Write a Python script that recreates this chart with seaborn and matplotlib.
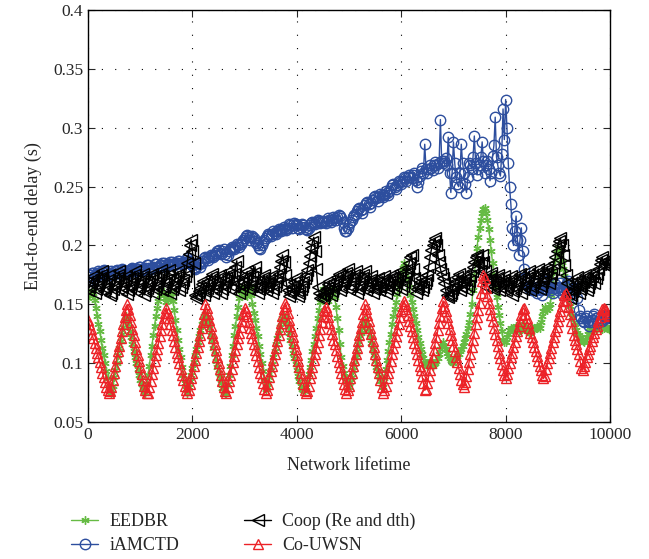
import numpy as np
import pandas as pd
import seaborn as sns
import matplotlib
matplotlib.use("Agg")
import matplotlib.pyplot as plt

# sample grid of the network lifetime axis (every 25 units)
lifetime = np.arange(0, 10001, 25)

eedbr = [
    0.155, 0.158, 0.160, 0.161, 0.160, 0.154, 0.147, 0.140, 0.133, 0.127, 0.120, 0.113, 0.107, 0.100, 0.093, 0.087, 0.080, 0.076, 0.075, 0.081,
    0.088, 0.094, 0.100, 0.107, 0.113, 0.119, 0.125, 0.131, 0.137, 0.140, 0.138, 0.133, 0.127, 0.122, 0.116, 0.110, 0.105, 0.100, 0.095, 0.090,
    0.086, 0.082, 0.078, 0.076, 0.075, 0.082, 0.090, 0.098, 0.107, 0.115, 0.124, 0.132, 0.140, 0.147, 0.153, 0.158, 0.162, 0.160, 0.158, 0.155,
    0.152, 0.154, 0.157, 0.159, 0.160, 0.153, 0.145, 0.137, 0.128, 0.120, 0.112, 0.105, 0.097, 0.090, 0.083, 0.078, 0.075, 0.080, 0.085, 0.090,
    0.096, 0.101, 0.107, 0.112, 0.118, 0.123, 0.128, 0.133, 0.137, 0.140, 0.142, 0.139, 0.135, 0.130, 0.124, 0.119, 0.113, 0.108, 0.102, 0.097,
    0.092, 0.087, 0.083, 0.079, 0.076, 0.075, 0.075, 0.082, 0.090, 0.098, 0.107, 0.115, 0.124, 0.132, 0.140, 0.148, 0.155, 0.161, 0.165, 0.163,
    0.160, 0.158, 0.157, 0.162, 0.166, 0.158, 0.150, 0.143, 0.137, 0.130, 0.123, 0.115, 0.108, 0.100, 0.093, 0.085, 0.078, 0.080, 0.083, 0.088,
    0.094, 0.099, 0.105, 0.110, 0.116, 0.121, 0.126, 0.131, 0.135, 0.138, 0.140, 0.138, 0.136, 0.131, 0.126, 0.120, 0.115, 0.109, 0.104, 0.099,
    0.094, 0.089, 0.085, 0.081, 0.078, 0.077, 0.076, 0.080, 0.085, 0.091, 0.097, 0.103, 0.110, 0.116, 0.123, 0.130, 0.138, 0.145, 0.152, 0.158,
    0.163, 0.161, 0.158, 0.155, 0.153, 0.157, 0.160, 0.162, 0.163, 0.156, 0.148, 0.138, 0.128, 0.116, 0.105, 0.098, 0.092, 0.088, 0.085, 0.082,
    0.080, 0.084, 0.088, 0.094, 0.099, 0.105, 0.110, 0.116, 0.121, 0.126, 0.130, 0.134, 0.137, 0.135, 0.132, 0.127, 0.122, 0.117, 0.112, 0.107,
    0.102, 0.097, 0.093, 0.089, 0.085, 0.082, 0.080, 0.087, 0.095, 0.103, 0.110, 0.118, 0.125, 0.133, 0.140, 0.146, 0.152, 0.159, 0.165, 0.171,
    0.176, 0.181, 0.185, 0.182, 0.178, 0.172, 0.165, 0.158, 0.152, 0.146, 0.140, 0.134, 0.128, 0.122, 0.117, 0.112, 0.108, 0.104, 0.100, 0.099,
    0.098, 0.100, 0.102, 0.100, 0.098, 0.099, 0.100, 0.102, 0.104, 0.108, 0.112, 0.115, 0.118, 0.115, 0.112, 0.109, 0.106, 0.104, 0.103, 0.101,
    0.100, 0.102, 0.104, 0.106, 0.108, 0.110, 0.112, 0.115, 0.118, 0.121, 0.125, 0.130, 0.135, 0.142, 0.150, 0.162, 0.175, 0.187, 0.198, 0.207,
    0.215, 0.222, 0.228, 0.231, 0.232, 0.228, 0.222, 0.214, 0.205, 0.195, 0.185, 0.175, 0.165, 0.156, 0.148, 0.141, 0.134, 0.127, 0.120, 0.118,
    0.118, 0.122, 0.125, 0.128, 0.130, 0.129, 0.128, 0.130, 0.132, 0.130, 0.127, 0.128, 0.130, 0.132, 0.133, 0.130, 0.128, 0.127, 0.126, 0.128,
    0.130, 0.129, 0.128, 0.130, 0.132, 0.131, 0.130, 0.135, 0.140, 0.144, 0.148, 0.146, 0.145, 0.147, 0.150, 0.158, 0.168, 0.178, 0.188, 0.194,
    0.198, 0.196, 0.192, 0.186, 0.180, 0.174, 0.168, 0.161, 0.155, 0.149, 0.143, 0.139, 0.135, 0.131, 0.128, 0.126, 0.124, 0.122, 0.120, 0.119,
    0.118, 0.120, 0.122, 0.125, 0.127, 0.129, 0.130, 0.129, 0.128, 0.129, 0.130, 0.131, 0.132, 0.130, 0.129, 0.130, 0.131, 0.131, 0.130, 0.129,
    0.128,
]

iamctd = [
    0.170, 0.173, 0.175, 0.177, 0.177, 0.175, 0.174, 0.177, 0.178, 0.176, 0.176, 0.178, 0.179, 0.177, 0.177, 0.175, 0.175, 0.177, 0.178, 0.176,
    0.176, 0.178, 0.179, 0.177, 0.177, 0.179, 0.180, 0.178, 0.178, 0.177, 0.176, 0.178, 0.179, 0.180, 0.181, 0.179, 0.178, 0.180, 0.180, 0.182,
    0.182, 0.180, 0.179, 0.180, 0.181, 0.183, 0.183, 0.181, 0.180, 0.181, 0.182, 0.184, 0.184, 0.182, 0.181, 0.183, 0.183, 0.185, 0.185, 0.183,
    0.182, 0.183, 0.184, 0.186, 0.186, 0.184, 0.183, 0.184, 0.185, 0.187, 0.187, 0.185, 0.184, 0.185, 0.186, 0.188, 0.189, 0.187, 0.186, 0.184,
    0.183, 0.181, 0.180, 0.182, 0.185, 0.184, 0.182, 0.185, 0.187, 0.189, 0.190, 0.189, 0.188, 0.190, 0.192, 0.191, 0.190, 0.192, 0.194, 0.195,
    0.196, 0.194, 0.193, 0.195, 0.197, 0.193, 0.190, 0.192, 0.195, 0.197, 0.199, 0.198, 0.197, 0.199, 0.201, 0.200, 0.199, 0.201, 0.203, 0.205,
    0.206, 0.208, 0.209, 0.207, 0.205, 0.207, 0.208, 0.206, 0.204, 0.202, 0.200, 0.198, 0.197, 0.200, 0.203, 0.205, 0.206, 0.208, 0.210, 0.209,
    0.208, 0.210, 0.212, 0.211, 0.210, 0.212, 0.214, 0.213, 0.212, 0.214, 0.216, 0.214, 0.213, 0.215, 0.218, 0.217, 0.215, 0.217, 0.219, 0.218,
    0.217, 0.215, 0.214, 0.216, 0.218, 0.217, 0.216, 0.214, 0.213, 0.215, 0.217, 0.219, 0.220, 0.219, 0.218, 0.220, 0.222, 0.221, 0.219, 0.220,
    0.221, 0.220, 0.219, 0.221, 0.223, 0.222, 0.220, 0.222, 0.224, 0.223, 0.222, 0.224, 0.226, 0.225, 0.223, 0.220, 0.215, 0.212, 0.212, 0.215,
    0.218, 0.220, 0.222, 0.224, 0.226, 0.227, 0.229, 0.231, 0.232, 0.230, 0.228, 0.231, 0.234, 0.236, 0.237, 0.235, 0.233, 0.236, 0.239, 0.241,
    0.242, 0.240, 0.238, 0.241, 0.244, 0.243, 0.241, 0.243, 0.246, 0.245, 0.243, 0.246, 0.249, 0.251, 0.252, 0.250, 0.248, 0.251, 0.255, 0.254,
    0.252, 0.255, 0.258, 0.257, 0.255, 0.258, 0.260, 0.258, 0.257, 0.260, 0.262, 0.256, 0.250, 0.254, 0.259, 0.263, 0.266, 0.262, 0.286, 0.265,
    0.262, 0.265, 0.268, 0.266, 0.264, 0.268, 0.271, 0.268, 0.266, 0.270, 0.307, 0.272, 0.270, 0.272, 0.274, 0.268, 0.292, 0.262, 0.245, 0.262,
    0.288, 0.270, 0.258, 0.252, 0.250, 0.262, 0.286, 0.270, 0.262, 0.252, 0.245, 0.258, 0.270, 0.268, 0.265, 0.275, 0.293, 0.270, 0.260, 0.265,
    0.268, 0.275, 0.288, 0.272, 0.262, 0.268, 0.272, 0.265, 0.255, 0.262, 0.276, 0.285, 0.309, 0.275, 0.268, 0.262, 0.259, 0.278, 0.316, 0.290,
    0.324, 0.300, 0.270, 0.250, 0.235, 0.215, 0.200, 0.212, 0.225, 0.205, 0.192, 0.205, 0.215, 0.195, 0.180, 0.172, 0.168, 0.166, 0.165, 0.163,
    0.162, 0.165, 0.168, 0.163, 0.160, 0.163, 0.166, 0.162, 0.158, 0.164, 0.170, 0.166, 0.163, 0.164, 0.165, 0.162, 0.160, 0.164, 0.167, 0.164,
    0.162, 0.165, 0.168, 0.163, 0.158, 0.161, 0.165, 0.168, 0.170, 0.166, 0.162, 0.160, 0.160, 0.162, 0.164, 0.155, 0.145, 0.140, 0.138, 0.136,
    0.135, 0.138, 0.140, 0.136, 0.132, 0.135, 0.137, 0.140, 0.142, 0.138, 0.134, 0.136, 0.138, 0.137, 0.136, 0.139, 0.141, 0.140, 0.138, 0.139,
    0.140,
]

coop = [
    0.162, 0.165, 0.168, 0.171, 0.174, 0.160, 0.163, 0.166, 0.169, 0.172, 0.175, 0.178, 0.161, 0.164, 0.167, 0.171, 0.175, 0.158, 0.160, 0.163,
    0.166, 0.169, 0.172, 0.175, 0.178, 0.162, 0.165, 0.168, 0.171, 0.174, 0.159, 0.162, 0.165, 0.168, 0.172, 0.175, 0.178, 0.161, 0.164, 0.167,
    0.170, 0.173, 0.176, 0.158, 0.161, 0.164, 0.167, 0.170, 0.173, 0.176, 0.160, 0.163, 0.166, 0.169, 0.173, 0.176, 0.179, 0.162, 0.165, 0.168,
    0.171, 0.175, 0.179, 0.160, 0.163, 0.166, 0.169, 0.172, 0.175, 0.178, 0.162, 0.165, 0.168, 0.171, 0.174, 0.178, 0.185, 0.193, 0.200, 0.205,
    0.195, 0.185, 0.158, 0.155, 0.158, 0.161, 0.164, 0.167, 0.170, 0.158, 0.161, 0.164, 0.167, 0.170, 0.173, 0.176, 0.160, 0.163, 0.166, 0.169,
    0.172, 0.175, 0.160, 0.163, 0.166, 0.169, 0.172, 0.175, 0.178, 0.163, 0.166, 0.170, 0.176, 0.182, 0.187, 0.168, 0.160, 0.163, 0.166, 0.169,
    0.172, 0.175, 0.178, 0.163, 0.166, 0.169, 0.173, 0.177, 0.182, 0.165, 0.160, 0.163, 0.166, 0.169, 0.172, 0.175, 0.162, 0.165, 0.168, 0.171,
    0.174, 0.160, 0.163, 0.166, 0.169, 0.172, 0.176, 0.182, 0.187, 0.192, 0.186, 0.175, 0.168, 0.162, 0.157, 0.160, 0.163, 0.166, 0.169, 0.172,
    0.162, 0.157, 0.160, 0.163, 0.166, 0.169, 0.172, 0.175, 0.179, 0.185, 0.191, 0.198, 0.203, 0.207, 0.195, 0.180, 0.165, 0.160, 0.155, 0.158,
    0.155, 0.158, 0.161, 0.164, 0.167, 0.170, 0.158, 0.161, 0.164, 0.167, 0.170, 0.173, 0.176, 0.162, 0.165, 0.168, 0.171, 0.174, 0.177, 0.180,
    0.163, 0.166, 0.169, 0.172, 0.175, 0.178, 0.160, 0.163, 0.166, 0.169, 0.172, 0.175, 0.178, 0.162, 0.165, 0.168, 0.171, 0.174, 0.160, 0.163,
    0.166, 0.169, 0.172, 0.162, 0.165, 0.168, 0.171, 0.174, 0.160, 0.163, 0.166, 0.169, 0.172, 0.175, 0.163, 0.166, 0.169, 0.172, 0.175, 0.178,
    0.163, 0.166, 0.169, 0.172, 0.176, 0.180, 0.185, 0.190, 0.192, 0.180, 0.172, 0.160, 0.163, 0.166, 0.169, 0.172, 0.162, 0.165, 0.168, 0.171,
    0.175, 0.182, 0.190, 0.196, 0.200, 0.204, 0.206, 0.200, 0.192, 0.186, 0.180, 0.176, 0.172, 0.168, 0.162, 0.158, 0.156, 0.158, 0.160, 0.163,
    0.165, 0.168, 0.170, 0.173, 0.176, 0.162, 0.165, 0.168, 0.171, 0.174, 0.163, 0.166, 0.170, 0.174, 0.178, 0.182, 0.186, 0.190, 0.192, 0.185,
    0.178, 0.185, 0.192, 0.186, 0.178, 0.165, 0.168, 0.171, 0.174, 0.177, 0.163, 0.166, 0.169, 0.172, 0.175, 0.162, 0.165, 0.168, 0.171, 0.174,
    0.162, 0.165, 0.168, 0.171, 0.174, 0.158, 0.161, 0.164, 0.167, 0.170, 0.173, 0.176, 0.160, 0.163, 0.166, 0.169, 0.172, 0.175, 0.178, 0.162,
    0.165, 0.168, 0.171, 0.174, 0.177, 0.180, 0.163, 0.166, 0.169, 0.172, 0.176, 0.179, 0.182, 0.168, 0.172, 0.176, 0.180, 0.185, 0.190, 0.195,
    0.200, 0.204, 0.206, 0.200, 0.192, 0.183, 0.175, 0.168, 0.160, 0.155, 0.158, 0.161, 0.164, 0.167, 0.170, 0.173, 0.160, 0.163, 0.166, 0.169,
    0.172, 0.175, 0.162, 0.165, 0.168, 0.171, 0.174, 0.177, 0.168, 0.172, 0.176, 0.180, 0.184, 0.188, 0.190, 0.186, 0.183, 0.185, 0.188, 0.186,
    0.182,
]

co_uwsn = [
    0.137, 0.133, 0.129, 0.125, 0.121, 0.117, 0.113, 0.109, 0.105, 0.101, 0.097, 0.092, 0.088, 0.084, 0.080, 0.077, 0.075, 0.076, 0.080, 0.086,
    0.092, 0.098, 0.104, 0.110, 0.115, 0.121, 0.127, 0.133, 0.139, 0.145, 0.150, 0.146, 0.141, 0.135, 0.129, 0.124, 0.118, 0.112, 0.107, 0.102,
    0.097, 0.091, 0.086, 0.081, 0.077, 0.075, 0.075, 0.080, 0.085, 0.091, 0.096, 0.102, 0.107, 0.112, 0.117, 0.123, 0.128, 0.133, 0.138, 0.143,
    0.147, 0.143, 0.138, 0.133, 0.128, 0.124, 0.119, 0.114, 0.109, 0.105, 0.100, 0.095, 0.090, 0.086, 0.081, 0.077, 0.075, 0.077, 0.082, 0.087,
    0.092, 0.098, 0.103, 0.109, 0.114, 0.119, 0.124, 0.130, 0.135, 0.142, 0.150, 0.147, 0.142, 0.137, 0.132, 0.126, 0.121, 0.116, 0.111, 0.105,
    0.100, 0.095, 0.090, 0.085, 0.080, 0.076, 0.075, 0.080, 0.085, 0.090, 0.095, 0.101, 0.106, 0.111, 0.116, 0.121, 0.126, 0.131, 0.136, 0.142,
    0.147, 0.144, 0.140, 0.135, 0.130, 0.126, 0.121, 0.116, 0.111, 0.107, 0.102, 0.097, 0.092, 0.088, 0.083, 0.078, 0.075, 0.077, 0.082, 0.088,
    0.093, 0.098, 0.103, 0.108, 0.113, 0.119, 0.124, 0.129, 0.134, 0.140, 0.146, 0.151, 0.149, 0.143, 0.137, 0.132, 0.127, 0.122, 0.117, 0.112,
    0.107, 0.102, 0.097, 0.092, 0.087, 0.082, 0.077, 0.075, 0.076, 0.081, 0.087, 0.092, 0.097, 0.103, 0.108, 0.113, 0.118, 0.124, 0.129, 0.135,
    0.140, 0.145, 0.148, 0.144, 0.139, 0.134, 0.129, 0.125, 0.120, 0.116, 0.111, 0.106, 0.101, 0.097, 0.092, 0.087, 0.082, 0.078, 0.075, 0.077,
    0.081, 0.087, 0.092, 0.098, 0.103, 0.108, 0.113, 0.119, 0.124, 0.130, 0.135, 0.142, 0.150, 0.146, 0.141, 0.136, 0.130, 0.125, 0.119, 0.114,
    0.108, 0.103, 0.097, 0.092, 0.086, 0.080, 0.075, 0.077, 0.081, 0.087, 0.092, 0.097, 0.102, 0.108, 0.113, 0.118, 0.123, 0.128, 0.133, 0.139,
    0.144, 0.149, 0.153, 0.150, 0.146, 0.141, 0.136, 0.132, 0.127, 0.122, 0.117, 0.113, 0.108, 0.103, 0.098, 0.094, 0.089, 0.083, 0.077, 0.078,
    0.083, 0.089, 0.094, 0.100, 0.105, 0.111, 0.117, 0.122, 0.128, 0.134, 0.140, 0.147, 0.153, 0.149, 0.144, 0.139, 0.134, 0.129, 0.124, 0.120,
    0.115, 0.110, 0.105, 0.101, 0.096, 0.091, 0.086, 0.082, 0.080, 0.084, 0.089, 0.095, 0.101, 0.108, 0.114, 0.120, 0.126, 0.133, 0.139, 0.145,
    0.151, 0.160, 0.170, 0.175, 0.172, 0.164, 0.157, 0.151, 0.146, 0.141, 0.136, 0.130, 0.125, 0.120, 0.115, 0.109, 0.104, 0.099, 0.094, 0.090,
    0.087, 0.091, 0.096, 0.100, 0.105, 0.109, 0.114, 0.118, 0.123, 0.127, 0.132, 0.136, 0.141, 0.146, 0.147, 0.142, 0.138, 0.134, 0.130, 0.126,
    0.122, 0.118, 0.114, 0.110, 0.106, 0.102, 0.098, 0.094, 0.090, 0.087, 0.089, 0.095, 0.100, 0.104, 0.109, 0.113, 0.118, 0.122, 0.127, 0.131,
    0.136, 0.140, 0.144, 0.149, 0.153, 0.158, 0.160, 0.154, 0.148, 0.142, 0.136, 0.130, 0.124, 0.120, 0.116, 0.112, 0.108, 0.102, 0.096, 0.094,
    0.098, 0.101, 0.105, 0.108, 0.112, 0.115, 0.119, 0.122, 0.126, 0.129, 0.132, 0.136, 0.139, 0.142, 0.146, 0.147, 0.146, 0.145, 0.143, 0.141,
    0.140,
]

labels = ["EEDBR", "iAMCTD", "Coop (Re and dth)", "Co-UWSN"]
colors = ["#66bb44", "#2d4e9e", "#000000", "#ec2227"]
markers = [(6, 2, 0), "o", "<", "^"]
sizes = [6, 7.5, 8, 7.5]

sns.set_style("ticks")
plt.rcParams["font.family"] = ["Liberation Serif", "DejaVu Serif"]

fig = plt.figure(figsize=(6.49, 5.59), dpi=100)
ax = fig.add_axes([0.1356, 0.245, 0.8044, 0.737])

for vals, lab, col, mk, ms in zip([eedbr, iamctd, coop, co_uwsn], labels, colors, markers, sizes):
    df = pd.DataFrame({"lifetime": lifetime, "delay": vals})
    sns.lineplot(data=df, x="lifetime", y="delay", ax=ax, color=col, linewidth=1.0,
                 marker=mk, markersize=ms, markerfacecolor="none", markeredgecolor=col,
                 markeredgewidth=1.0, label=lab, sort=False, estimator=None)

ax.set_xlim(0, 10000)
ax.set_ylim(0.05, 0.4)
ax.set_xticks(np.arange(0, 10001, 2000))
ax.set_yticks(np.arange(0.05, 0.401, 0.05))
ax.set_yticklabels(["0.05", "0.1", "0.15", "0.2", "0.25", "0.3", "0.35", "0.4"])
ax.grid(True, color="black", linestyle=(0, (1, 11)), linewidth=0.8)
ax.tick_params(direction="in", top=True, right=True, length=5, labelsize=12.5, width=0.8)
for s in ax.spines.values():
    s.set_linewidth(1.0)
    s.set_color("black")
ax.set_xlabel("Network lifetime", fontsize=13, labelpad=10)
ax.set_ylabel("End-to-end delay (s)", fontsize=13, labelpad=8)

handles, labs = ax.get_legend_handles_labels()
ax.get_legend().remove()
fig.legend(handles, labs, ncol=2, loc="lower left", bbox_to_anchor=(0.085, -0.021),
           frameon=False, fontsize=13, handlelength=1.5, columnspacing=3.6,
           labelspacing=0.4, handletextpad=0.6)

fig.savefig("out.png", dpi=100)
